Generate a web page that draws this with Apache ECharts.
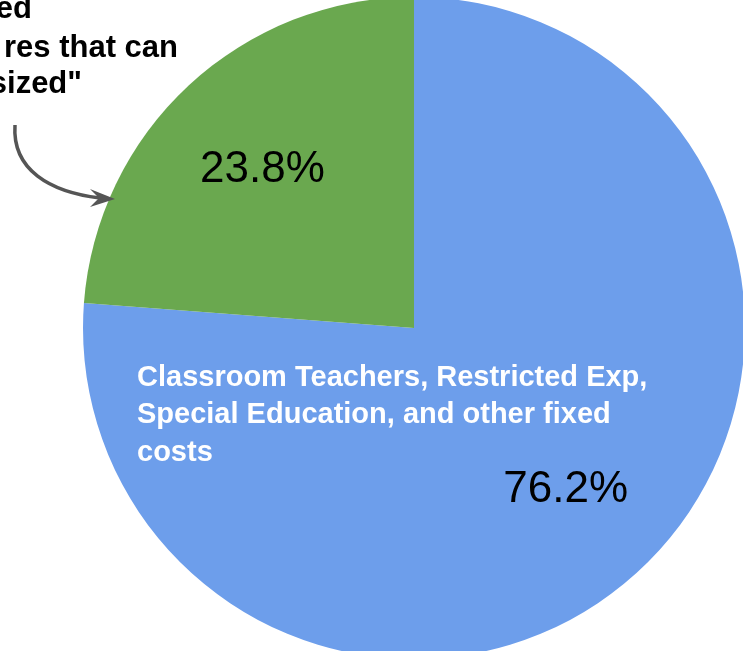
<!DOCTYPE html>
<html>
<head>
<meta charset="utf-8">
<script src="https://cdn.jsdelivr.net/npm/echarts@6/dist/echarts.min.js"></script>
<style>
html,body{margin:0;padding:0;background:#fff;}
#chart{width:743px;height:651px;}
</style>
</head>
<body>
<div id="chart"></div>
<script>
var categories = ['Classroom Teachers, Restricted Exp, Special Education, and other fixed costs', 'Discretionary expenditures that can be downsized'];
var values = [76.2, 23.8];
var colors = ['#6d9eeb', '#6aa84f'];
var nameLines = ['Classroom Teachers, Restricted Exp,', 'Special Education, and other fixed', 'costs'];
var annotationLines = ['ed', 'res that can', 'sized"'];

var chart = echarts.init(document.getElementById('chart'), null, {renderer: 'canvas'});
var data = categories.map(function (c, i) {
  return {name: c, value: values[i], itemStyle: {color: colors[i]}};
});
var fontFam = '"Liberation Sans", Arial, Helvetica, sans-serif';
var labelOffsets = [[0, -4], [0, 3]];

var graphics = [];
var nameY = [378, 415, 453];
nameLines.forEach(function (t, i) {
  graphics.push({type: 'text', x: 137, y: nameY[i], silent: true, z: 100,
    style: {text: t, fill: '#ffffff', fontSize: 29, fontWeight: 'bold', fontFamily: fontFam,
      textAlign: 'left', textVerticalAlign: 'middle'}});
});
var annEnd = [32, 178, 82];
var annY = [9, 48, 84];
annotationLines.forEach(function (t, i) {
  graphics.push({type: 'text', x: annEnd[i], y: annY[i], silent: true, z: 100,
    style: {text: t, fill: '#000000', fontSize: 31, fontWeight: 'bold', fontFamily: fontFam,
      textAlign: 'right', textVerticalAlign: 'middle'}});
});
graphics.push({type: 'bezierCurve', silent: true, z: 100,
  shape: {x1: 15, y1: 125, cpx1: 12, cpy1: 170, cpx2: 50, cpy2: 192, x2: 100, y2: 198},
  style: {stroke: '#555555', lineWidth: 3.5, fill: null}});
graphics.push({type: 'polygon', silent: true, z: 100,
  shape: {points: [[115, 199], [90, 189], [99, 198], [90, 207]]},
  style: {fill: '#555555'}});

chart.setOption({
  animation: false,
  backgroundColor: '#ffffff',
  series: [
    {
      type: 'pie',
      center: [414, 328],
      radius: [0, 331],
      startAngle: 90,
      clockwise: true,
      silent: true,
      label: {show: false},
      labelLine: {show: false},
      itemStyle: {borderWidth: 0},
      data: data
    },
    {
      type: 'pie',
      center: [414, 330],
      radius: [111, 329],
      startAngle: 90,
      clockwise: true,
      silent: true,
      z: 5,
      itemStyle: {color: 'rgba(0,0,0,0)', borderWidth: 0},
      label: {show: true, position: 'inside', formatter: '{c}%', color: '#000000',
        fontSize: 44, fontFamily: fontFam, fontWeight: 'normal'},
      labelLine: {show: false},
      data: categories.map(function (c, i) {
        return {name: c, value: values[i], label: {offset: labelOffsets[i]}};
      })
    }
  ],
  graphic: graphics
});
</script>
</body>
</html>
